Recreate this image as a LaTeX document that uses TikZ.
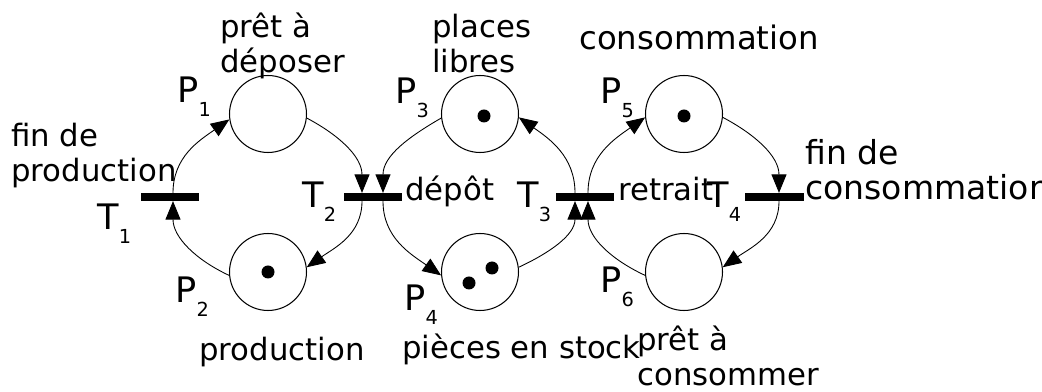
\documentclass[tikz,border=0pt]{standalone}
\usepackage{fontspec}
\setmainfont{DejaVu Sans}
\usetikzlibrary{arrows.meta}
\newcommand{\idx}[2]{#1\raisebox{-7.5pt}{\fontsize{11}{11}\selectfont #2}}

\begin{document}
\begin{tikzpicture}[x=0.02cm,y=0.02cm,
  every node/.style={font=\fontsize{17.5}{20}\selectfont},
  place/.style={circle,draw,line width=0.6pt,minimum size=1.54cm,inner sep=0},
  bar/.style={fill=black,minimum width=1.18cm,minimum height=0.15cm,inner sep=0},
  arc/.style={line width=0.5pt,-{Triangle[length=0.37cm,width=0.3cm]}},
  lbl/.style={anchor=base west,inner sep=0,font=\fontsize{20}{20}\selectfont},
  txt/.style={anchor=base west,inner sep=0,align=left}]
  \useasboundingbox (0,0) rectangle (1042,392);
  \clip (0,0) rectangle (1042,392);
  % places
  \node[place] (p1) at (268,278) {};
  \node[place] (p2) at (268,120) {};
  \node[place] (p3) at (480,278) {};
  \node[place] (p4) at (480,120) {};
  \node[place] (p5) at (684,278) {};
  \node[place] (p6) at (684,120) {};
  % tokens
  \fill (p2) circle (6.5);
  \fill ([xshift=0.08cm,yshift=-0.04cm]p3.center) circle (6.5);
  \fill ([xshift=-0.22cm,yshift=-0.22cm]p4.center) circle (6.5);
  \fill ([xshift=0.24cm,yshift=0.08cm]p4.center) circle (6.5);
  \fill ([yshift=-0.04cm]p5.center) circle (6.5);
  % transitions
  \node[bar] (t1) at (170,195) {};
  \node[bar] (t2) at (373,195) {};
  \node[bar] (t3) at (585,195) {};
  \node[bar] (t4) at (774,195) {};
  % arcs
  \draw[arc] (p2.185) to[out=155,in=-90] ([xshift=0.06cm]t1.south);
  \draw[arc] ([xshift=0.06cm]t1.north) to[out=90,in=-145] (p1.188);
  \draw[arc] (p1.-6) to[out=-28,in=90] ([xshift=-0.22cm]t2.north);
  \draw[arc] ([xshift=-0.22cm]t2.south) to[out=-90,in=35] (p2.7);
  \draw[arc] (p3.186) to[out=-150,in=90] ([xshift=0.2cm]t2.north);
  \draw[arc] ([xshift=0.2cm]t2.south) to[out=-90,in=145] (p4.185);
  \draw[arc] (p4.7) to[out=25,in=-90] ([xshift=-0.2cm]t3.south);
  \draw[arc] ([xshift=-0.2cm]t3.north) to[out=90,in=-35] (p3.-5);
  \draw[arc] ([xshift=0.06cm]t3.north) to[out=90,in=-145] (p5.185);
  \draw[arc] (p6.185) to[out=155,in=-90] ([xshift=0.06cm]t3.south);
  \draw[arc] (p5.-5) to[out=-28,in=90] ([xshift=0.1cm]t4.north);
  \draw[arc] ([xshift=0.1cm]t4.south) to[out=-90,in=35] (p6.7);
  % names
  \node[lbl] (lp1) at (177,289) {\idx{P}{1}};
  \node[lbl] (lp2) at (175,89) {\idx{P}{2}};
  \node[lbl] (lp3) at (395,288) {\idx{P}{3}};
  \node[lbl] (lp4) at (404,81) {\idx{P}{4}};
  \node[lbl] (lp5) at (600,288) {\idx{P}{5}};
  \node[lbl] (lp6) at (600,99) {\idx{P}{6}};
  \node[lbl] (lt1) at (97,162) {\idx{T}{1}};
  \node[lbl] (lt2) at (302,184) {\idx{T}{2}};
  \node[lbl] (lt3) at (517,184) {\idx{T}{3}};
  \node[lbl] (lt4) at (707,184) {\idx{T}{4}};
  % meanings
  \node[txt] (mp1) at (220,319) {prêt à\\déposer};
  \node[txt] (mt1) at (11,210) {fin de\\production};
  \node[txt] (mp3) at (432,319) {places\\libres};
  \node[txt,font=\fontsize{18.4}{20}\selectfont] (mp5) at (579,342) {consommation};
  \node[txt] (mt2) at (405,191) {dépôt};
  \node[txt] (mt3) at (618,191) {retrait};
  \node[txt,font=\fontsize{18.8}{20}\selectfont] (mt4) at (805,192) {fin de\\consommation};
  \node[txt] (mp2) at (199,31) {production};
  \node[txt] (mp4) at (402,33) {pièces en stock};
  \node[txt] (mp6) at (637,6) {prêt à\\consommer};
\end{tikzpicture}
\end{document}
